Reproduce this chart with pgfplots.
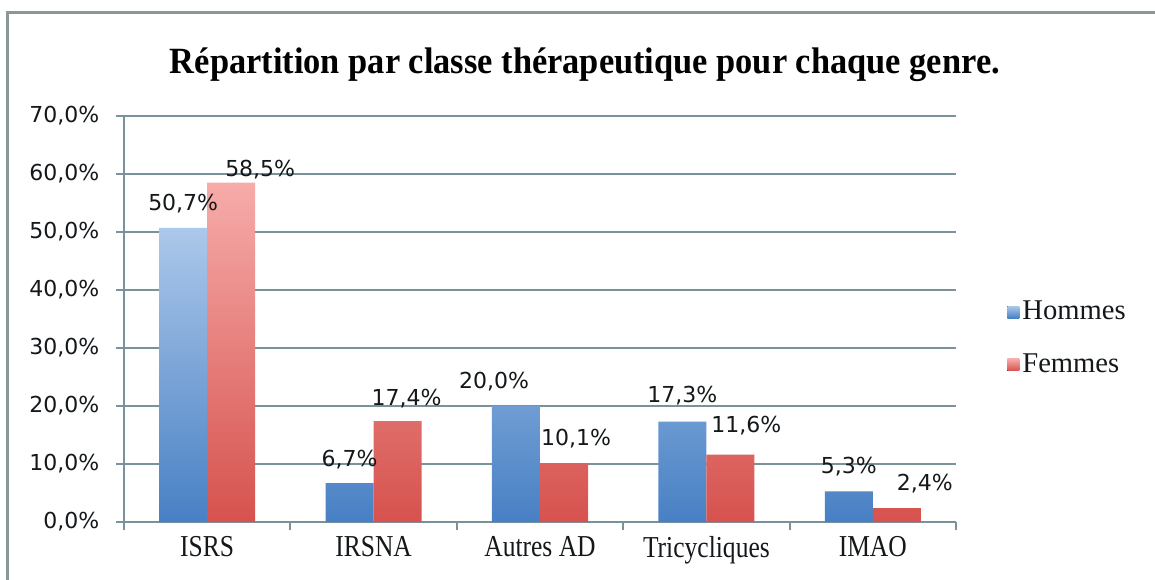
\documentclass[border=0pt]{standalone}
\usepackage{fontspec}
\usepackage{pgfplots}
\usepackage{pgfplotstable}
\pgfplotsset{compat=1.18}
\setmainfont{DejaVu Sans}
\newfontfamily\catfont[FakeStretch=0.84]{Liberation Serif}
\newfontfamily\legfont{Liberation Serif}
\newfontfamily\titlefont[FakeStretch=0.93]{Liberation Serif}
\definecolor{gridc}{RGB}{122,146,156}
\definecolor{framec}{RGB}{140,152,152}
\definecolor{txtc}{RGB}{20,24,26}
\definecolor{btop}{RGB}{172,200,234}
\definecolor{bbot}{RGB}{72,128,196}
\definecolor{rtop}{RGB}{246,172,170}
\definecolor{rbot}{RGB}{214,82,78}

\pgfplotstableread{
x y dx dy
0 50.7 0 8.5
1 6.7 0 8.5
2 20.0 -11 9
3 17.3 0 9.5
4 5.3 0 9
}\hommes
\pgfplotstableread{
x y dx dy
0 58.5 14.5 3
1 17.4 4.5 8
2 10.1 6 9
3 11.6 8 11
4 2.4 14 9
}\femmes

\begin{document}
\begin{tikzpicture}
\begin{axis}[
  scale only axis, width=416pt, height=203pt,
  xmin=-0.5, xmax=4.5, ymin=0, ymax=70,
  ybar=0pt, bar width=24pt,
  axis x line=bottom, axis y line=left,
  axis line style={-, gridc, line width=1pt},
  every outer x axis line/.append style={-},
  every outer y axis line/.append style={-},
  tick align=outside, major tick length=3.8pt,
  tick style={gridc, line width=1pt},
  ytick={0,10,...,70},
  ymajorgrids, major grid style={gridc, line width=1pt},
  xtick={-0.5,0.5,1.5,2.5,3.5,4.5}, xticklabels={},
  extra x ticks={0,1,2,3,4},
  extra x tick labels={ISRS,IRSNA,Autres AD,Tricycliques,IMAO},
  extra x tick style={tick style={draw=none}},
  x tick label style={font=\catfont\fontsize{15.2}{18}\selectfont, text=txtc},
  y tick label style={font=\fontsize{11}{13}\selectfont, text=txtc, xshift=-5pt},
  /pgf/number format/assume math mode=true,
  yticklabel={\pgfmathprintnumber[fixed,fixed zerofill,precision=1,use comma]{\tick}\%},
  title={Répartition par classe thérapeutique pour chaque genre.},
  title style={font=\titlefont\bfseries\fontsize{18.5}{22}\selectfont, text=black, at={(0.554,1)}, anchor=base, yshift=15.5pt},
  point meta=y,
  nodes near coords={\pgfmathprintnumber[fixed,fixed zerofill,precision=1,use comma]{\pgfplotspointmeta}\%},
  visualization depends on={\thisrow{dx}\as\dx},
  visualization depends on={\thisrow{dy}\as\dy},
  every node near coord/.append style={font=\fontsize{11}{13}\selectfont, text=txtc, anchor=base, inner sep=0pt, xshift=\dx*1pt, yshift=\dy*1pt},
  legend style={draw=none, fill=none, at={(1.0613,0.452)}, anchor=west, inner sep=0pt,
    font=\legfont\fontsize{14.3}{16}\selectfont, text=txtc, row sep=12.5pt,
    nodes={inner sep=1.5pt}},
  legend cell align=left,
  legend image code/.code={\fill[#1] (0pt,-3pt) rectangle (6pt,3pt);},
]
\addplot[draw=none, top color=btop, bottom color=bbot] table[x=x,y=y] {\hommes};
\addlegendentry{Hommes}
\addplot[draw=none, top color=rtop, bottom color=rbot] table[x=x,y=y] {\femmes};
\addlegendentry{Femmes}
\end{axis}
\draw[framec, line width=1.5pt] (-58pt,-40pt) -- (-58pt,254.5pt) -- (530pt,254.5pt);
\pgfresetboundingbox
\useasboundingbox (-62pt,-28.5pt) rectangle (515.5pt,261pt);
\end{tikzpicture}
\end{document}
